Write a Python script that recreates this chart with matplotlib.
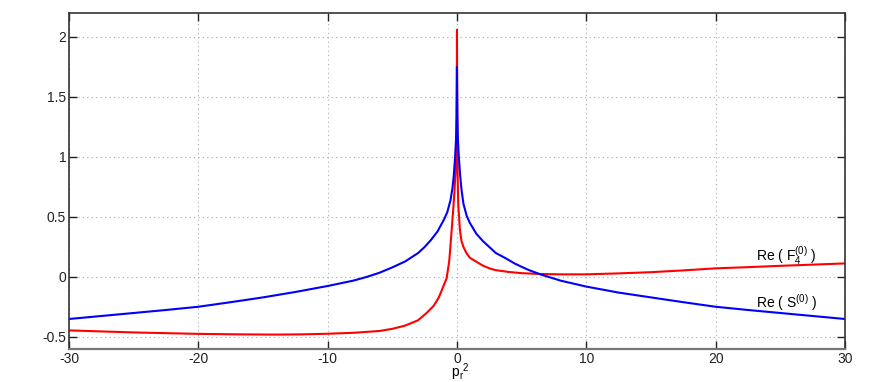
import matplotlib.pyplot as plt
import numpy as np

# Re(S^(0))
x_s = [-30, -27.5, -25, -22.5, -20, -17.5, -15, -12.5, -10, -8, -7, -6, -5, -4, -3, -2.5,
       -2, -1.5, -1, -0.75, -0.5, -0.35, -0.25, -0.15, -0.07, -0.03, -0.01, 0,
       0.01, 0.03, 0.07, 0.15, 0.25, 0.35, 0.5, 0.75, 1, 1.5, 2, 2.5, 3, 3.7, 4.5, 5.5,
       6.5, 8, 10, 12.5, 15, 17.5, 20, 22.5, 25, 27.5, 30]
y_s = [-0.35, -0.325, -0.30, -0.275, -0.248, -0.21, -0.17, -0.125, -0.075, -0.03, 0.0,
       0.035, 0.08, 0.13, 0.20, 0.25, 0.31, 0.38, 0.48, 0.54, 0.64, 0.74, 0.84, 0.99,
       1.15, 1.35, 1.6, 1.75,
       1.6, 1.35, 1.15, 0.99, 0.84, 0.73, 0.61, 0.51, 0.45, 0.36, 0.30, 0.25, 0.20, 0.16,
       0.11, 0.06, 0.02, -0.03, -0.08, -0.13, -0.17, -0.21, -0.248, -0.275, -0.30, -0.325,
       -0.35]

# Re(F4^(0))
x_f = [-30, -25, -20, -17, -14, -12, -10, -8, -6, -5, -4, -3, -2.35, -1.8, -1.4, -1.1,
       -0.8, -0.6, -0.41, -0.3, -0.2, -0.15, -0.08, -0.03, 0,
       0.03, 0.05, 0.1, 0.23, 0.35, 0.5, 0.75, 1, 1.5, 2, 2.5, 3, 4, 5, 6.4, 8, 10, 12.5,
       15, 17.5, 20, 22.5, 25, 27.5, 30]
y_f = [-0.445, -0.462, -0.474, -0.478, -0.48, -0.478, -0.473, -0.465, -0.45, -0.432,
       -0.405, -0.36, -0.30, -0.24, -0.17, -0.09, -0.01, 0.13, 0.39, 0.55, 0.70, 0.80,
       0.95, 1.08, 2.06,
       1.08, 0.85, 0.60, 0.39, 0.30, 0.25, 0.196, 0.16, 0.127, 0.095, 0.072, 0.057, 0.042,
       0.032, 0.025, 0.022, 0.022, 0.03, 0.04, 0.055, 0.072, 0.082, 0.093, 0.103, 0.113]

xticks = [-30, -20, -10, 0, 10, 20, 30]
yticks = [-0.5, 0, 0.5, 1, 1.5, 2]
ytick_labels = ['-0.5', '0', '0.5', '1', '1.5', '2']
xtick_labels = ['-30', '-20', '-10', '0', '10', '20', '30']

plt.rcParams['font.family'] = ['Liberation Sans', 'DejaVu Sans']
plt.rcParams['mathtext.fontset'] = 'custom'
plt.rcParams['mathtext.rm'] = 'Liberation Sans'
plt.rcParams['mathtext.it'] = 'Liberation Sans'
plt.rcParams['axes.unicode_minus'] = False

W, H = 872, 382
fig = plt.figure(figsize=(W / 100, H / 100), dpi=100)
ax = fig.add_axes([0.0791, 0.0864, 0.8899, 0.8796])

ax.plot(x_f, y_f, color='#ff0000', lw=1.5)
ax.plot(x_s, y_s, color='#0000ff', lw=1.5)

ax.set_xlim(-30, 30)
ax.set_ylim(-0.6, 2.2)
ax.set_xticks(xticks)
ax.set_xticklabels(xtick_labels)
ax.set_yticks(yticks)
ax.set_yticklabels(ytick_labels)
ax.grid(True, color='#aaaaaa', linestyle=(0, (1, 3)), linewidth=0.8)
ax.tick_params(direction='in', length=6, width=1, top=True, right=True,
               labelsize=10, colors='#222222', pad=2)
for s in ax.spines.values():
    s.set_color('#333333')
    s.set_linewidth(1.2)
ax.spines['bottom'].set_color('#777777')
ax.spines['bottom'].set_linewidth(1.6)

# x label "p_r^2" built from plain pieces so it fits under the tick labels
fig.text(459 / W, 6 / H, 'p', fontsize=10, ha='right', va='baseline')
fig.text(459.5 / W, 3 / H, 'r', fontsize=7, ha='left', va='baseline')
fig.text(463 / W, 11 / H, '2', fontsize=7, ha='left', va='baseline')

ax.text(23.1, 0.17, r'Re ( F$_\mathregular{4}^\mathregular{(0)}$ )', fontsize=10,
        ha='left', va='center')
ax.text(23.1, -0.215, r'Re ( S$^\mathregular{(0)}$ )', fontsize=10,
        ha='left', va='center')

fig.savefig('out.png', dpi=100)
